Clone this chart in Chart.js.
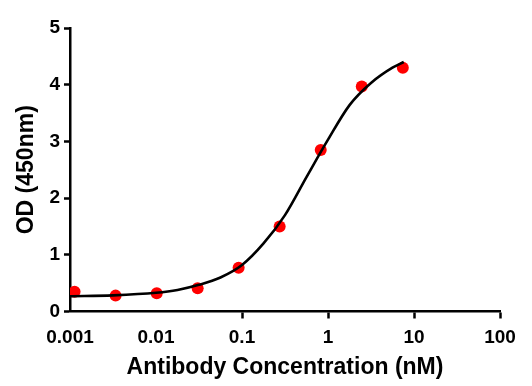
<!DOCTYPE html>
<html>
<head>
<meta charset="utf-8">
<script src="https://cdn.jsdelivr.net/npm/chart.js@4"></script>
<style>
  html, body { margin: 0; padding: 0; background: #fff; }
  #wrap { width: 532px; height: 386px; }
</style>
</head>
<body>
<div id="wrap"><canvas id="odChart" width="532" height="386"></canvas></div>
<script>
// measured points (3-fold dilution series)
const concentrations = [0.00113, 0.00339, 0.0102, 0.0305, 0.0914, 0.274, 0.823, 2.47, 7.41];
const odValues = [0.35, 0.28, 0.32, 0.41, 0.77, 1.50, 2.85, 3.97, 4.30];

// fitted curve
const fitConc = [0.001, 0.00316, 0.01, 0.0178, 0.0316, 0.0562, 0.1, 0.178, 0.316, 0.562, 1, 1.78, 3.16, 5.62, 7.6];
const fitOD = [0.27, 0.285, 0.33, 0.38, 0.47, 0.60, 0.82, 1.20, 1.70, 2.37, 3.03, 3.64, 4.03, 4.30, 4.40];

const xTicks = [0.001, 0.01, 0.1, 1, 10, 100];
const yTicks = [0, 1, 2, 3, 4, 5];

const FONT = "'Liberation Sans', Arial, sans-serif";

const ctx = document.getElementById('odChart').getContext('2d');
const odChart = new Chart(ctx, {
    type: 'scatter',
    data: {
        datasets: [{
            label: 'Fit',
            data: fitConc.map((c, i) => ({ x: c, y: fitOD[i] })),
            showLine: true,
            borderColor: '#000',
            borderWidth: 2.6,
            pointRadius: 0,
            cubicInterpolationMode: 'monotone',
            order: 1
        }, {
            label: 'OD',
            data: concentrations.map((c, i) => ({ x: c, y: odValues[i] })),
            backgroundColor: '#ff0000',
            borderColor: '#ff0000',
            pointRadius: 6,
            pointBorderWidth: 0,
            order: 2
        }]
    },
    options: {
        responsive: false,
        animation: false,
        layout: { padding: { top: 28, right: 32, left: 0, bottom: 0 } },
        plugins: { legend: { display: false }, tooltip: { enabled: false } },
        scales: {
            x: {
                type: 'logarithmic',
                min: 0.001,
                max: 100,
                afterBuildTicks: (scale) => { scale.ticks = xTicks.map(v => ({ value: v })); },
                afterFit: (scale) => { scale.height = 74.5; },
                border: { color: '#000', width: 2.5 },
                grid: {
                    drawOnChartArea: false,
                    tickLength: 7,
                    tickWidth: 2.5,
                    tickColor: (c) => (c.tick && c.tick.value < 0.05) ? 'rgba(0,0,0,0)' : '#000'
                },
                ticks: {
                    color: '#000',
                    font: { family: FONT, size: 19, weight: 'bold' },
                    padding: 8,
                    maxRotation: 0,
                    autoSkip: false,
                    callback: (v) => String(v)
                },
                title: {
                    display: true,
                    text: 'Antibody Concentration (nM)',
                    color: '#000',
                    font: { family: FONT, size: 23, weight: 'bold' },
                    padding: { top: 0, bottom: 5 }
                }
            },
            y: {
                min: 0,
                max: 5,
                afterBuildTicks: (scale) => { scale.ticks = yTicks.map(v => ({ value: v })); },
                afterFit: (scale) => { scale.width = 70; },
                border: { color: '#000', width: 2.5 },
                grid: {
                    drawOnChartArea: false,
                    tickLength: 6,
                    tickWidth: 2.5,
                    tickColor: '#000'
                },
                ticks: {
                    color: '#000',
                    font: { family: FONT, size: 19, weight: 'bold' },
                    padding: 4
                },
                title: {
                    display: true,
                    text: 'OD (450nm)',
                    color: '#000',
                    font: { family: FONT, size: 23, weight: 'bold' },
                    padding: { top: 13, bottom: 0 }
                }
            }
        }
    }
});
</script>
</body>
</html>
